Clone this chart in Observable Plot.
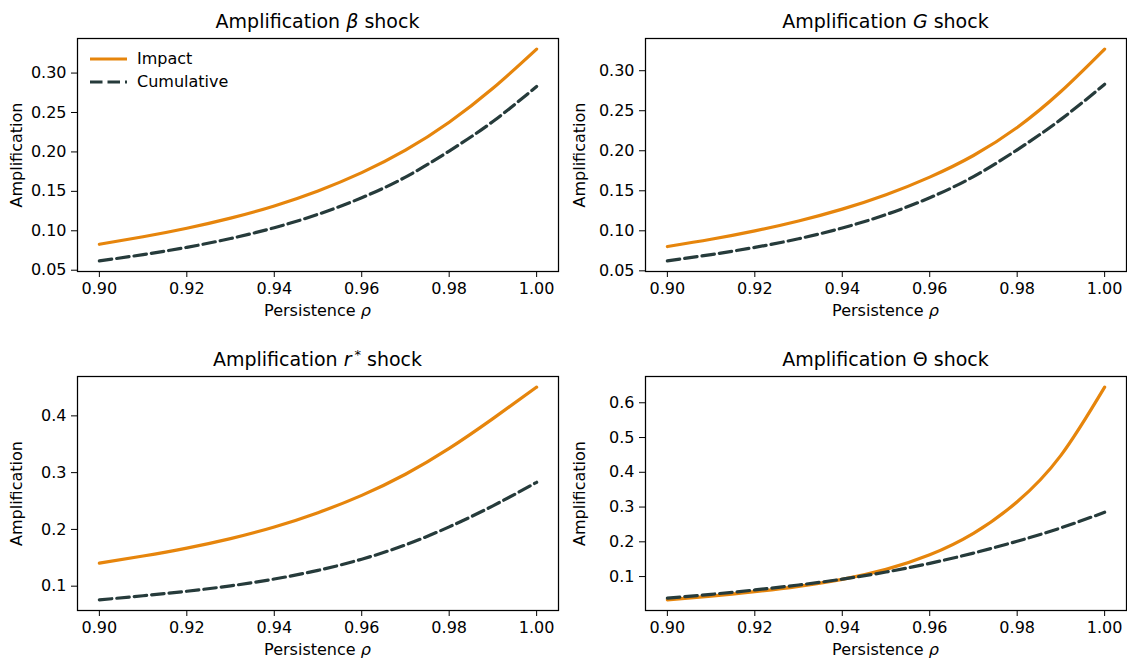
<!DOCTYPE html>
<html>
<head>
<meta charset="utf-8">
<script src="https://cdn.jsdelivr.net/npm/d3@7"></script>
<script src="https://cdn.jsdelivr.net/npm/@observablehq/plot@0.6"></script>
<style>
  html, body { margin: 0; padding: 0; background: #fff; }
  #fig { position: relative; width: 1127px; height: 659px; font-family: "DejaVu Sans", sans-serif; color: #000; overflow: hidden; }
  .panel { position: absolute; }
  .title { position: absolute; text-align: center; font-size: 19px; line-height: 19px; white-space: nowrap; }
  .xlab { position: absolute; text-align: center; font-size: 16px; line-height: 16px; white-space: nowrap; }
  .legend { position: absolute; font-size: 16px; line-height: 16px; }
  .legend .row { position: absolute; white-space: nowrap; }
  .legend svg { position: absolute; left: 0; }
  .legend span { position: absolute; left: 47px; }
</style>
</head>
<body>
<div id="fig"></div>
<script>
// ---- data ----
const rho = [0.90, 0.91, 0.92, 0.93, 0.94, 0.95, 0.96, 0.97, 0.98, 0.99, 1.00];
const xTicks = [0.90, 0.92, 0.94, 0.96, 0.98, 1.00];
const seriesNames = ["Impact", "Cumulative"];

const betaImpact      = [0.0829, 0.0924, 0.1032, 0.1160, 0.1315, 0.1505, 0.1737, 0.2022, 0.2377, 0.2807, 0.3304];
const betaCumulative  = [0.0618, 0.0698, 0.0790, 0.0902, 0.1039, 0.1209, 0.1419, 0.1681, 0.2011, 0.2386, 0.2830];
const gImpact         = [0.0803, 0.0894, 0.0999, 0.1123, 0.1271, 0.1451, 0.1671, 0.1941, 0.2291, 0.2740, 0.3270];
const gCumulative     = [0.0624, 0.0703, 0.0793, 0.0901, 0.1035, 0.1203, 0.1413, 0.1677, 0.2012, 0.2392, 0.2830];
const rImpact         = [0.1406, 0.1531, 0.1671, 0.1838, 0.2043, 0.2295, 0.2600, 0.2972, 0.3427, 0.3952, 0.4506];
const rCumulative     = [0.0759, 0.0831, 0.0911, 0.1006, 0.1126, 0.1279, 0.1475, 0.1727, 0.2045, 0.2415, 0.2830];
const thetaImpact     = [0.0330, 0.0435, 0.0565, 0.0720, 0.0920, 0.1206, 0.1626, 0.2244, 0.3152, 0.4487, 0.6450];
const thetaCumulative = [0.0380, 0.0490, 0.0615, 0.0758, 0.0926, 0.1131, 0.1381, 0.1676, 0.2016, 0.2401, 0.2850];

const yTicksA = [0.05, 0.10, 0.15, 0.20, 0.25, 0.30];
const yTicksB = [0.1, 0.2, 0.3, 0.4];
const yTicksC = [0.1, 0.2, 0.3, 0.4, 0.5, 0.6];

const ORANGE = "#e6850c";
const DARK = "#263b3b";

const fig = document.getElementById("fig");

function makePanel(cfg) {
  const imp = rho.map((r, i) => ({rho: r, v: cfg.impact[i]}));
  const cum = rho.map((r, i) => ({rho: r, v: cfg.cumulative[i]}));
  const all = cfg.impact.concat(cfg.cumulative);
  const lo = d3.min(all), hi = d3.max(all), pad = 0.05 * (hi - lo);
  const chart = Plot.plot({
    width: cfg.w, height: cfg.h,
    marginLeft: cfg.ml, marginRight: cfg.mr, marginTop: cfg.mt, marginBottom: cfg.mb,
    style: {fontFamily: "DejaVu Sans", fontSize: "16px", color: "#000", background: "transparent", overflow: "visible"},
    x: {domain: [0.895, 1.005]},
    y: {domain: [lo - pad, hi + pad]},
    marks: [
      Plot.axisX({ticks: xTicks, tickFormat: d3.format(".2f"), tickSize: 6, tickPadding: 5, label: null, fontSize: 16}),
      Plot.axisY({ticks: cfg.yTicks, tickFormat: d3.format(cfg.yFmt), tickSize: 6, tickPadding: 5,
        label: "Amplification", labelAnchor: "center", labelArrow: "none", labelOffset: cfg.ml - 10, fontSize: 16}),
      Plot.line(imp, {x: "rho", y: "v", stroke: ORANGE, strokeWidth: 3.2, curve: "natural"}),
      Plot.line(cum, {x: "rho", y: "v", stroke: DARK, strokeWidth: 3.2, strokeDasharray: "12.5,5", curve: "natural"}),
      Plot.frame({stroke: "#000", strokeWidth: 1.25})
    ]
  });
  const div = document.createElement("div");
  div.className = "panel";
  div.style.left = cfg.left + "px";
  div.style.top = cfg.top + "px";
  div.appendChild(chart);
  fig.appendChild(div);

  const fl = cfg.left + cfg.ml, fw = cfg.w - cfg.ml - cfg.mr;
  const t = document.createElement("div");
  t.className = "title";
  t.style.left = fl + "px"; t.style.width = fw + "px";
  t.style.top = (cfg.top + cfg.mt - 26) + "px";
  t.innerHTML = cfg.title;
  fig.appendChild(t);

  const xl = document.createElement("div");
  xl.className = "xlab";
  xl.style.left = fl + "px"; xl.style.width = fw + "px";
  xl.style.top = (cfg.top + cfg.h - cfg.mb + 32) + "px";
  xl.innerHTML = "Persistence <i>ρ</i>";
  fig.appendChild(xl);
}

makePanel({left: 0, top: 0, w: 563, h: 329, ml: 77, mr: 5, mt: 38, mb: 58,
  impact: betaImpact, cumulative: betaCumulative, yTicks: yTicksA, yFmt: ".2f",
  title: "Amplification <i>β</i> shock"});
makePanel({left: 563, top: 0, w: 564, h: 329, ml: 82, mr: 1, mt: 38, mb: 58,
  impact: gImpact, cumulative: gCumulative, yTicks: yTicksA, yFmt: ".2f",
  title: "Amplification <i>G</i> shock"});
makePanel({left: 0, top: 329, w: 563, h: 330, ml: 77, mr: 5, mt: 47, mb: 49,
  impact: rImpact, cumulative: rCumulative, yTicks: yTicksB, yFmt: ".1f",
  title: "Amplification <i>r</i><sup style=\"font-size:13px;vertical-align:7px;line-height:0;margin-left:3px\">*</sup> shock"});
makePanel({left: 563, top: 329, w: 564, h: 330, ml: 82, mr: 1, mt: 47, mb: 49,
  impact: thetaImpact, cumulative: thetaCumulative, yTicks: yTicksC, yFmt: ".1f",
  title: "Amplification Θ shock"});

// legend (top-left panel)
const lg = document.createElement("div");
lg.className = "legend";
lg.style.left = "90px"; lg.style.top = "51px";
const colors = [ORANGE, DARK];
const dashes = [null, "12.5,5"];
seriesNames.forEach((name, i) => {
  const row = document.createElement("div");
  row.className = "row";
  row.style.top = (i * 23) + "px";
  row.style.left = "0px";
  row.innerHTML = `<svg width="38" height="16"><line x1="0" x2="37" y1="8" y2="8" stroke="${colors[i]}" stroke-width="3.2" ${dashes[i] ? `stroke-dasharray="${dashes[i]}"` : ""}/></svg><span>${name}</span>`;
  lg.appendChild(row);
});
fig.appendChild(lg);
</script>
</body>
</html>
